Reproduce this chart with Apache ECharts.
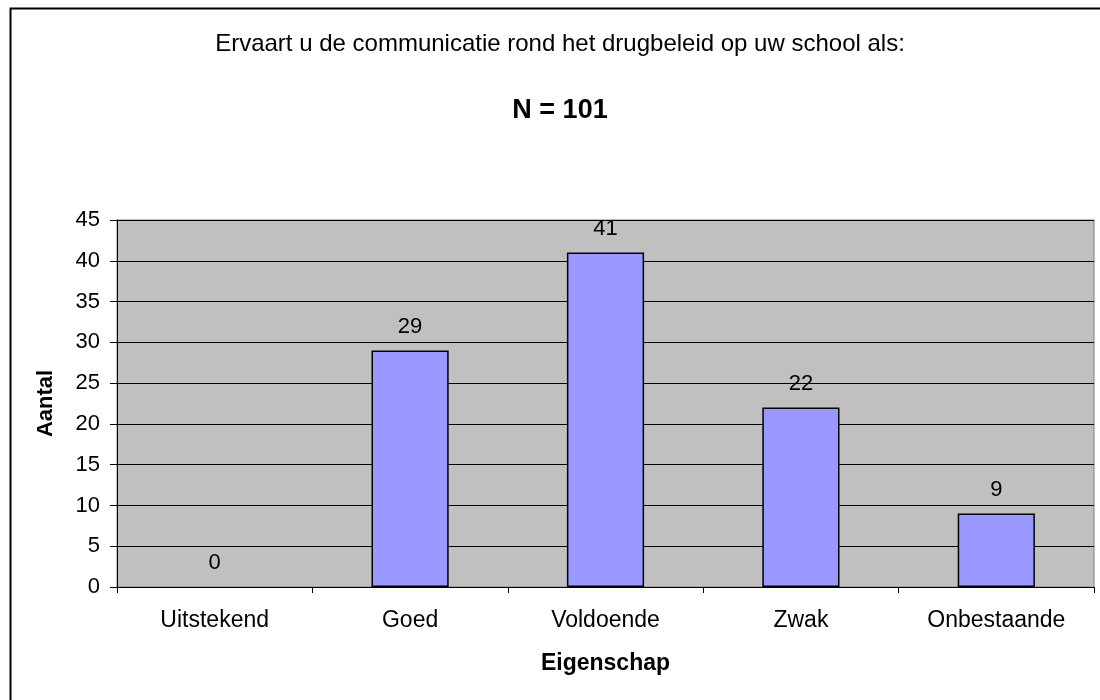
<!DOCTYPE html>
<html>
<head>
<meta charset="utf-8">
<script src="https://cdn.jsdelivr.net/npm/echarts@6/dist/echarts.min.js"></script>
<style>
  html, body { margin: 0; padding: 0; background: #fff; }
  #chart { width: 1100px; height: 700px; }
</style>
</head>
<body>
<div id="chart"></div>
<script>
  // data
  var categories = ['Uitstekend', 'Goed', 'Voldoende', 'Zwak', 'Onbestaande'];
  var counts = [0, 29, 41, 22, 9];
  var yTicks = [0, 45, 5];
  var titleText = 'Ervaart u de communicatie rond het drugbeleid op uw school als:';
  var subText = 'N = 101';

  var font = '"Liberation Sans", Arial, sans-serif';

  var barData = counts.map(function (v) {
    // no visible outline for an empty bar
    if (v === 0) return { value: v, itemStyle: { borderWidth: 0 } };
    return v;
  });

  var option = {
    animation: false,
    textStyle: { fontFamily: font },
    graphic: [
      {
        type: 'rect',
        shape: { x: 10.5, y: 8.5, width: 1200, height: 800 },
        style: { fill: 'none', stroke: '#000', lineWidth: 2 },
        silent: true
      },
      {
        type: 'text', x: 560, y: 44, silent: true,
        style: {
          text: titleText, textAlign: 'center', textVerticalAlign: 'middle',
          font: '24px ' + font, fill: '#000'
        }
      },
      {
        type: 'text', x: 560, y: 111, silent: true,
        style: {
          text: subText, textAlign: 'center', textVerticalAlign: 'middle',
          font: 'bold 27px ' + font, fill: '#000'
        }
      }
    ],
    grid: {
      left: 117, right: 6, top: 220, bottom: 113,
      show: true,
      backgroundColor: '#C0C0C0',
      borderColor: '#808080',
      borderWidth: 1
    },
    xAxis: {
      type: 'category',
      data: categories,
      name: 'Eigenschap',
      nameLocation: 'middle',
      nameGap: 65,
      nameTextStyle: { fontFamily: font, fontSize: 23, fontWeight: 'bold', color: '#000' },
      axisLine: { lineStyle: { color: '#000', width: 1 } },
      axisTick: { show: true, length: 6, lineStyle: { color: '#000' } },
      axisLabel: { fontFamily: font, fontSize: 23, color: '#000', margin: 22 }
    },
    yAxis: {
      type: 'value',
      min: yTicks[0], max: yTicks[1], interval: yTicks[2],
      name: 'Aantal',
      nameLocation: 'middle',
      nameGap: 60,
      nameTextStyle: { fontFamily: font, fontSize: 22, fontWeight: 'bold', color: '#000' },
      axisLine: { show: true, lineStyle: { color: '#000', width: 1 } },
      axisTick: { show: true, length: 7, lineStyle: { color: '#000' } },
      axisLabel: { fontFamily: font, fontSize: 22, color: '#000', margin: 17 },
      splitLine: { show: true, lineStyle: { color: '#000', width: 1 } }
    },
    series: [{
      type: 'bar',
      data: barData,
      barWidth: '39.5%',
      itemStyle: { color: '#9999FF', borderColor: '#000', borderWidth: 1.5 },
      label: {
        show: true, position: 'top', distance: 13,
        fontFamily: font, fontSize: 22, color: '#000'
      }
    }]
  };

  var chart = echarts.init(document.getElementById('chart'));
  chart.setOption(option);
</script>
</body>
</html>
